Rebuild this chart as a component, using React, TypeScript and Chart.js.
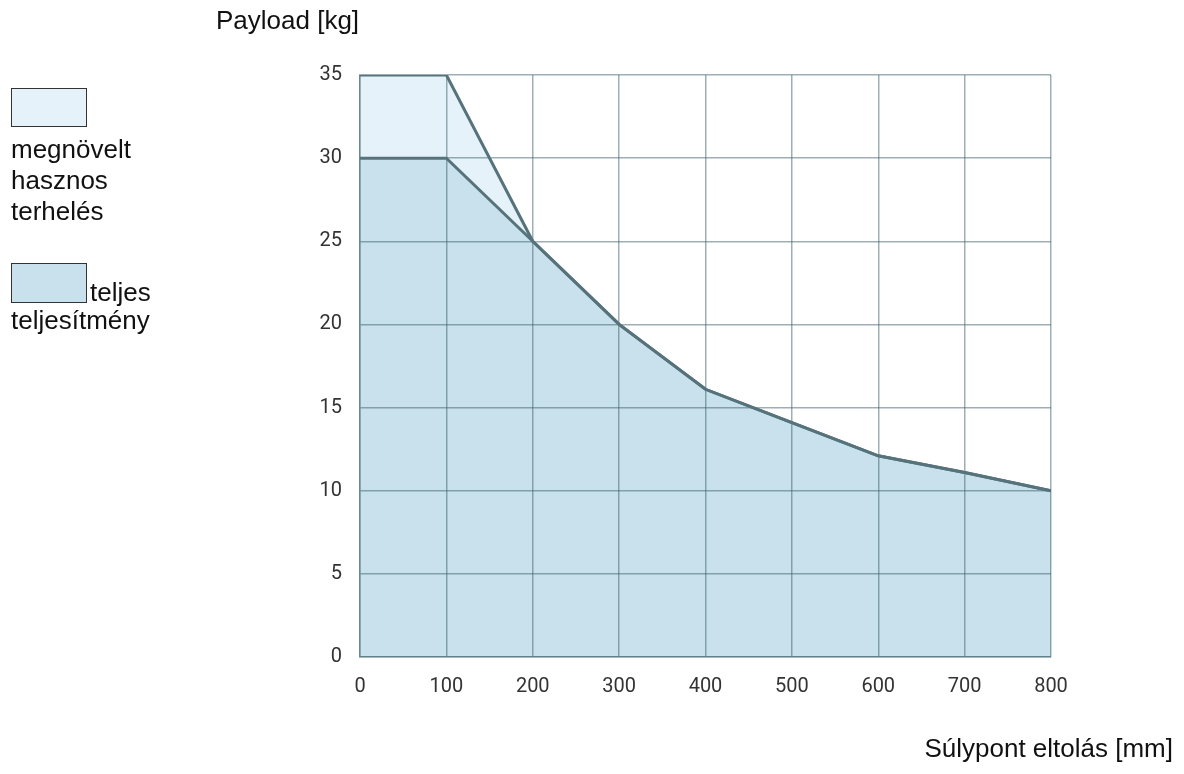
import React, { useEffect, useRef } from "react";
import { Chart, registerables } from "chart.js";

Chart.register(...registerables);

const offsets = [0, 100, 200, 300, 400, 500, 600, 700, 800];
const fullPayload = [30, 30, 25, 20, 16.1, 14.1, 12.1, 11.1, 10];
const enhancedPayload = [35, 35, 25, 20, 16.1, 14.1, 12.1, 11.1, 10];
const xTicks = [0, 100, 200, 300, 400, 500, 600, 700, 800];
const yTicks = [0, 5, 10, 15, 20, 25, 30, 35];

const yTitle = "Payload [kg]";
const xTitle = "Súlypont eltolás [mm]";
const legendEnhanced = ["megnövelt", "hasznos", "terhelés"];
const legendFull = ["teljes", "teljesítmény"];

const LIGHT = "#e6f2f9";
const DARK = "#c9e1ed";
const LINE = "#56737c";
const GRID = "rgba(60,95,105,0.5)";

export default function App() {
  const ref = useRef<HTMLCanvasElement | null>(null);

  useEffect(() => {
    if (!ref.current) return;
    const chart = new Chart(ref.current, {
      type: "line",
      data: {
        datasets: [
          {
            label: "teljes teljesítmény",
            data: offsets.map((x, i) => ({ x, y: fullPayload[i] })),
            borderColor: LINE,
            borderWidth: 3,
            backgroundColor: DARK,
            fill: "origin",
            pointRadius: 0,
            tension: 0,
          },
          {
            label: "megnövelt hasznos terhelés",
            data: offsets.map((x, i) => ({ x, y: enhancedPayload[i] })),
            borderColor: LINE,
            borderWidth: 3,
            backgroundColor: LIGHT,
            fill: "origin",
            pointRadius: 0,
            tension: 0,
          },
        ],
      },
      options: {
        animation: false,
        responsive: true,
        maintainAspectRatio: false,
        layout: { padding: { left: 0, top: 75, right: 133, bottom: 0 } },
        plugins: {
          legend: { display: false },
          tooltip: { enabled: false },
          filler: { drawTime: "beforeDraw" } as any,
        },
        scales: {
          x: {
            type: "linear",
            min: 0,
            max: 800,
            afterBuildTicks: (s: any) => {
              s.ticks = xTicks.map((v) => ({ value: v }));
            },
            afterFit: (s: any) => {
              s.height = 117;
            },
            grid: { color: GRID, lineWidth: 1.5, drawTicks: false },
            border: { display: true, color: GRID, width: 1.5 },
            ticks: {
              padding: 18,
              color: "#333",
              font: { family: "Roboto", size: 20 },
              maxRotation: 0,
            },
          },
          y: {
            type: "linear",
            min: 0,
            max: 35,
            afterBuildTicks: (s: any) => {
              s.ticks = yTicks.map((v) => ({ value: v }));
            },
            afterFit: (s: any) => {
              s.width = 360;
            },
            grid: { color: GRID, lineWidth: 1.5, drawTicks: false },
            border: { display: true, color: GRID, width: 1.5 },
            ticks: {
              padding: 18,
              color: "#333",
              font: { family: "Roboto", size: 20 },
            },
          },
        },
      },
    });
    return () => chart.destroy();
  }, []);

  const textFont: React.CSSProperties = {
    fontFamily: "'Liberation Sans', Arial, sans-serif",
    fontSize: 26,
    color: "#111",
    position: "absolute",
    whiteSpace: "nowrap",
  };

  return (
    <div style={{ position: "fixed", left: 0, top: 0, width: 1184, height: 774, background: "#fff" }}>
      <canvas ref={ref} style={{ display: "block" }} />
      <div style={{ ...textFont, left: 216, top: 7, lineHeight: "26px" }}>{yTitle}</div>
      <div style={{ ...textFont, right: 11, top: 735, lineHeight: "26px", textAlign: "right" }}>{xTitle}</div>
      <div
        style={{
          position: "absolute",
          left: 11,
          top: 88,
          width: 76,
          height: 39,
          boxSizing: "border-box",
          border: "1px solid #333",
          background: LIGHT,
        }}
      />
      <div style={{ ...textFont, left: 11, top: 134, lineHeight: "31px" }}>
        {legendEnhanced.map((t) => (
          <div key={t}>{t}</div>
        ))}
      </div>
      <div
        style={{
          position: "absolute",
          left: 11,
          top: 263,
          width: 76,
          height: 40,
          boxSizing: "border-box",
          border: "1px solid #333",
          background: DARK,
        }}
      />
      <div style={{ ...textFont, left: 90, top: 279, lineHeight: "26px" }}>{legendFull[0]}</div>
      <div style={{ ...textFont, left: 11, top: 307, lineHeight: "26px" }}>{legendFull[1]}</div>
    </div>
  );
}
